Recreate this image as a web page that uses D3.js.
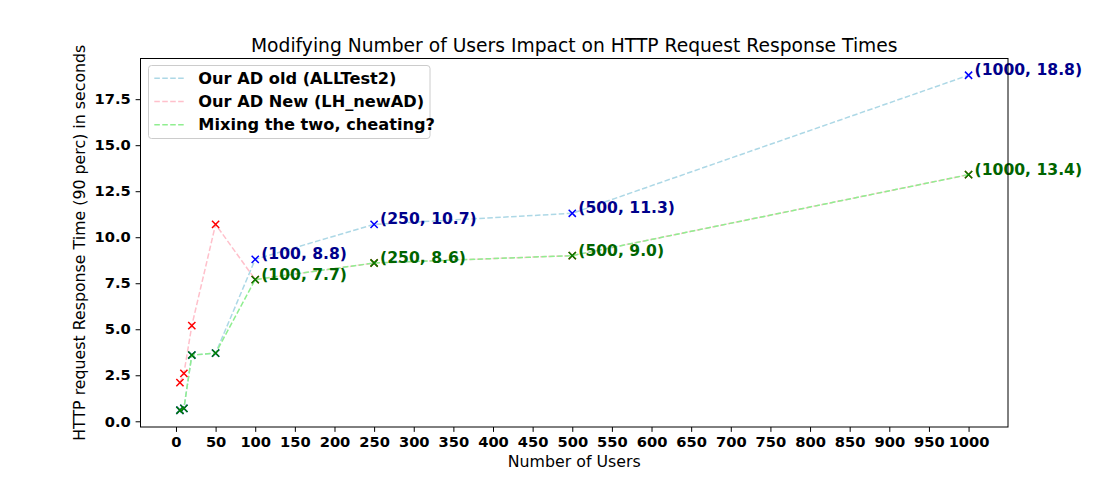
<!DOCTYPE html>
<html><head><meta charset="utf-8">
<script src="https://cdn.jsdelivr.net/npm/d3@7"></script>
<style>body{margin:0;background:#fff}svg{display:block}</style>
</head><body>
<svg id="c" width="1120" height="480"></svg>
<script>
const users = [5, 10, 20, 50, 100, 250, 500, 1000];
const oldAD = [0.6, 0.7, 3.6, 3.7, 8.8, 10.7, 11.3, 18.8];
const newAD = [2.1, 2.6, 5.2, 10.7, 7.7, 8.6, 9.0, 13.4];
const mixed = [0.6, 0.7, 3.6, 3.7, 7.7, 8.6, 9.0, 13.4];
const xTicks = d3.range(0, 1001, 50);
const yTicks = [0.0, 2.5, 5.0, 7.5, 10.0, 12.5, 15.0, 17.5];
const seriesNames = ["Our AD old (ALLTest2)", "Our AD New (LH_newAD)", "Mixing the two, cheating?"];
const labelUsersOld = [100, 250, 500, 1000];
const labelUsersMix = [100, 250, 500, 1000];

const svg = d3.select("#c");
const L = 140.5, R = 1008, T = 58.5, B = 427;
const x = d3.scaleLinear().domain([-44.75, 1049.75]).range([L, R]);
const y = d3.scaleLinear().domain([-0.31, 19.71]).range([B, T]);
const font = "DejaVu Sans, sans-serif";

const series = [
  {vals: oldAD, line: "#add8e6", mark: "blue"},
  {vals: newAD, line: "#ffc0cb", mark: "red"},
  {vals: mixed, line: "#90ee90", mark: "green"}
];
const lineGen = d3.line().x(d => x(d[0])).y(d => y(d[1]));
const plot = svg.append("g");
series.forEach(s => {
  const pts = users.map((u, i) => [u, s.vals[i]]);
  plot.append("path").attr("d", lineGen(pts)).attr("fill", "none")
    .attr("stroke", s.line).attr("stroke-width", 1.5).attr("stroke-dasharray", "5.55,2.4");
  pts.forEach(p => {
    const cx = x(p[0]), cy = y(p[1]), r = 3.6;
    plot.append("path").attr("d", `M${cx-r},${cy-r}L${cx+r},${cy+r}M${cx-r},${cy+r}L${cx+r},${cy-r}`)
      .attr("stroke", s.mark).attr("stroke-width", 1.5).attr("fill", "none");
  });
});

// annotations
function annotate(us, vals, color) {
  us.forEach(u => {
    const v = vals[users.indexOf(u)];
    svg.append("text").attr("x", x(u) + 6).attr("y", y(v))
      .attr("font-family", font).attr("font-weight", "bold").attr("font-size", 15.6)
      .attr("fill", color).text(`(${u}, ${v.toFixed(1)})`);
  });
}
annotate(labelUsersOld, oldAD, "#00008b");
annotate(labelUsersMix, mixed, "#006400");

// axes
const xAxis = svg.append("g").attr("transform", `translate(0,${B})`)
  .call(d3.axisBottom(x).tickValues(xTicks).tickSize(4.9).tickPadding(4.9).tickFormat(d3.format("d")));
const yAxis = svg.append("g").attr("transform", `translate(${L},0)`)
  .call(d3.axisLeft(y).tickValues(yTicks).tickSize(4.9).tickPadding(4.9).tickFormat(d3.format(".1f")));
[xAxis, yAxis].forEach(a => {
  a.select(".domain").remove();
  a.selectAll("line").attr("stroke", "#000").attr("stroke-width", 1);
  a.selectAll("text").attr("font-family", font).attr("font-weight", "bold")
    .attr("font-size", 14.7).attr("fill", "#000");
});
svg.append("rect").attr("x", L).attr("y", T).attr("width", R - L).attr("height", B - T)
  .attr("fill", "none").attr("stroke", "#000").attr("stroke-width", 1);

// labels
svg.append("text").attr("x", (L + R) / 2).attr("y", 51.5).attr("text-anchor", "middle")
  .attr("font-family", font).attr("font-size", 18.7).text("Modifying Number of Users Impact on HTTP Request Response Times");
svg.append("text").attr("x", (L + R) / 2).attr("y", 466.5).attr("text-anchor", "middle")
  .attr("font-family", font).attr("font-size", 15.8).text("Number of Users");
svg.append("text").attr("transform", `translate(85,${(T + B) / 2}) rotate(-90)`).attr("text-anchor", "middle")
  .attr("font-family", font).attr("font-size", 15.8).text("HTTP request Response Time (90 perc) in seconds");

// legend
const lg = svg.append("g");
lg.append("rect").attr("x", 148.5).attr("y", 65.5).attr("width", 281.5).attr("height", 73).attr("rx", 3)
  .attr("fill", "#fff").attr("fill-opacity", 0.8).attr("stroke", "#ccc");
series.forEach((s, i) => {
  const yy = 78.3 + i * 23.2;
  lg.append("line").attr("x1", 154.3).attr("x2", 185.5).attr("y1", yy).attr("y2", yy)
    .attr("stroke", s.line).attr("stroke-width", 1.5).attr("stroke-dasharray", "5.55,2.4");
  lg.append("text").attr("x", 198.3).attr("y", yy + 5.3).attr("font-family", font)
    .attr("font-weight", "bold").attr("font-size", 16.2).text(seriesNames[i]);
});
</script>
</body></html>
